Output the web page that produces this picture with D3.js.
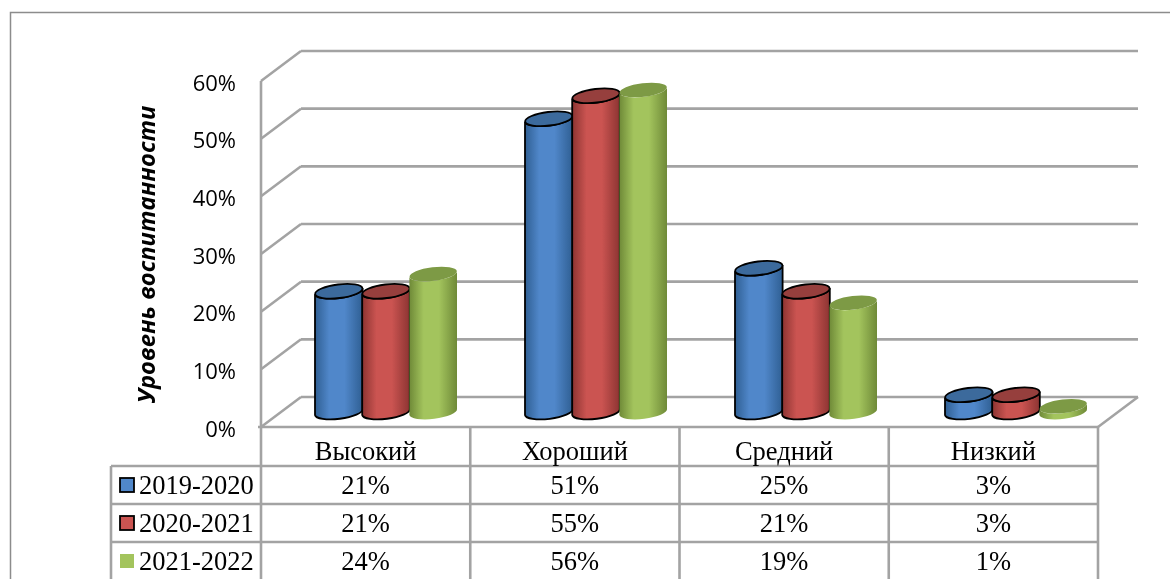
<!DOCTYPE html>
<html><head><meta charset="utf-8">
<script src="https://cdnjs.cloudflare.com/ajax/libs/d3/7.8.5/d3.min.js"></script>
<style>html,body{margin:0;padding:0;background:#fff;overflow:hidden}svg{display:block;filter:blur(0.4px)}</style>
</head><body><svg id="c" width="1170" height="579"></svg>
<script>
const categories = ["Высокий","Хороший","Средний","Низкий"];
const seriesNames = ["2019-2020","2020-2021","2021-2022"];
const v2019 = [21,51,25,3];
const v2020 = [21,55,21,3];
const v2021 = [24,56,19,1];
const yTicks = [0,10,20,30,40,50,60];
const seriesValues = [v2019,v2020,v2021];
const palette = [
 {dark:"#2f5f93",mid:"#5087ca",top:"#3c6a9c",stroke:"#000"},
 {dark:"#8c3432",mid:"#cb5451",top:"#963f3d",stroke:"#000"},
 {dark:"#6f8a38",mid:"#a3c45d",top:"#7d9a45",stroke:"none"}];
const grid="#a3a3a3";
const svg=d3.select("#c");
const L=261,R=1098,T=81,B=427,DX=40,DY=30;
const y=d3.scaleLinear().domain([0,60]).range([B,T]);
const yBars=d3.scaleLinear().domain([0,60]).range([B-15,T-14]);
const x=d3.scaleBand().domain(categories).range([L,R]);
const xBars=d3.scaleBand().domain(categories).range([L+20,R+23]);
const barW=47.2,rx=23.8,ry=6.8,tilt=-3;
const defs=svg.append("defs");
palette.forEach((p,i)=>{
  const g=defs.append("linearGradient").attr("id","g"+i);
  [[0,p.dark],[.3,p.mid],[.62,p.mid],[1,p.dark]].forEach(s=>g.append("stop").attr("offset",s[0]).attr("stop-color",s[1]));
});
const line=(a,b,c,d,w=2.6)=>svg.append("line").attr("x1",a).attr("y1",b).attr("x2",c).attr("y2",d).attr("stroke",grid).attr("stroke-width",w);
// outer frame (right and bottom edges fall outside the picture)
svg.append("rect").attr("x",10.5).attr("y",12.5).attr("width",1200).attr("height",600).attr("fill","none").attr("stroke","#8c8c8c").attr("stroke-width",1.5);
// walls
yTicks.forEach(t=>{
  const yy=y(t);
  line(L,yy,L+DX,yy-DY);
  line(L+DX,yy-DY,R+DX,yy-DY);
});
line(L,T,L,B);
line(R,B,R+DX,B-DY);
line(L-3,B,R,B);
// y labels
svg.selectAll("text.yt").data(yTicks).join("text").attr("class","yt")
 .attr("x",236).attr("y",d=>y(d)+9.5).attr("text-anchor","end")
 .attr("font-family","Open Sans").attr("font-size",22).attr("fill","#000").text(d=>d+"%");
svg.append("text").attr("transform","translate(155,254.5) rotate(-90)").attr("text-anchor","middle")
 .attr("font-family","Open Sans").attr("font-size",23.8).attr("font-weight",700).attr("font-style","italic").text("Уровень воспитанности");
// bars
categories.forEach((c,ci)=>{
  seriesValues.forEach((vals,si)=>{
    const cx=xBars(c)+xBars.bandwidth()/2+(si-1)*barW;
    const base=yBars(0), top=yBars(vals[ci]);
    const p=palette[si];
    const a=`M${cx-rx},${top-tilt} A${rx},${ry} -7 0 0 ${cx+rx},${top+tilt} L${cx+rx},${base+tilt} A${rx},${ry} -7 0 1 ${cx-rx},${base-tilt} Z`;
    svg.append("path").attr("d",a).attr("fill",`url(#g${si})`).attr("stroke",p.stroke).attr("stroke-width",1.8);
    svg.append("ellipse").attr("cx",cx).attr("cy",top).attr("rx",rx).attr("ry",ry)
      .attr("transform",`rotate(-7 ${cx} ${top})`).attr("fill",p.top).attr("stroke",p.stroke).attr("stroke-width",1.8);
  });
});
// table
const rowsY=[427,466,504,542,584];
const TL=111;
line(L,B,L,rowsY[4]);
x.domain().forEach(c=>line(x(c)+x.bandwidth(),B,x(c)+x.bandwidth(),rowsY[4]));
rowsY.slice(1).forEach(r=>line(TL,r,R,r));
line(TL,rowsY[1],TL,rowsY[4]);
const serif="Liberation Serif";
svg.selectAll("text.cat").data(categories).join("text").attr("class","cat")
 .attr("x",d=>x(d)+x.bandwidth()/2).attr("y",460).attr("text-anchor","middle")
 .attr("font-family",serif).attr("font-size",26.5).text(d=>d);
seriesNames.forEach((s,i)=>{
  const by=rowsY[i+1]+19;
  svg.append("rect").attr("x",120).attr("y",by-7).attr("width",14).attr("height",14).attr("fill",palette[i].mid)
    .attr("stroke",palette[i].stroke).attr("stroke-width",1.8);
  svg.append("text").attr("x",139).attr("y",rowsY[i+1]+28).attr("font-family",serif).attr("font-size",26.5).text(s);
  categories.forEach((c,ci)=>{
    svg.append("text").attr("x",x(c)+x.bandwidth()/2).attr("y",rowsY[i+1]+28).attr("text-anchor","middle")
      .attr("font-family",serif).attr("font-size",26.5).text(seriesValues[i][ci]+"%");
  });
});
</script></body></html>
